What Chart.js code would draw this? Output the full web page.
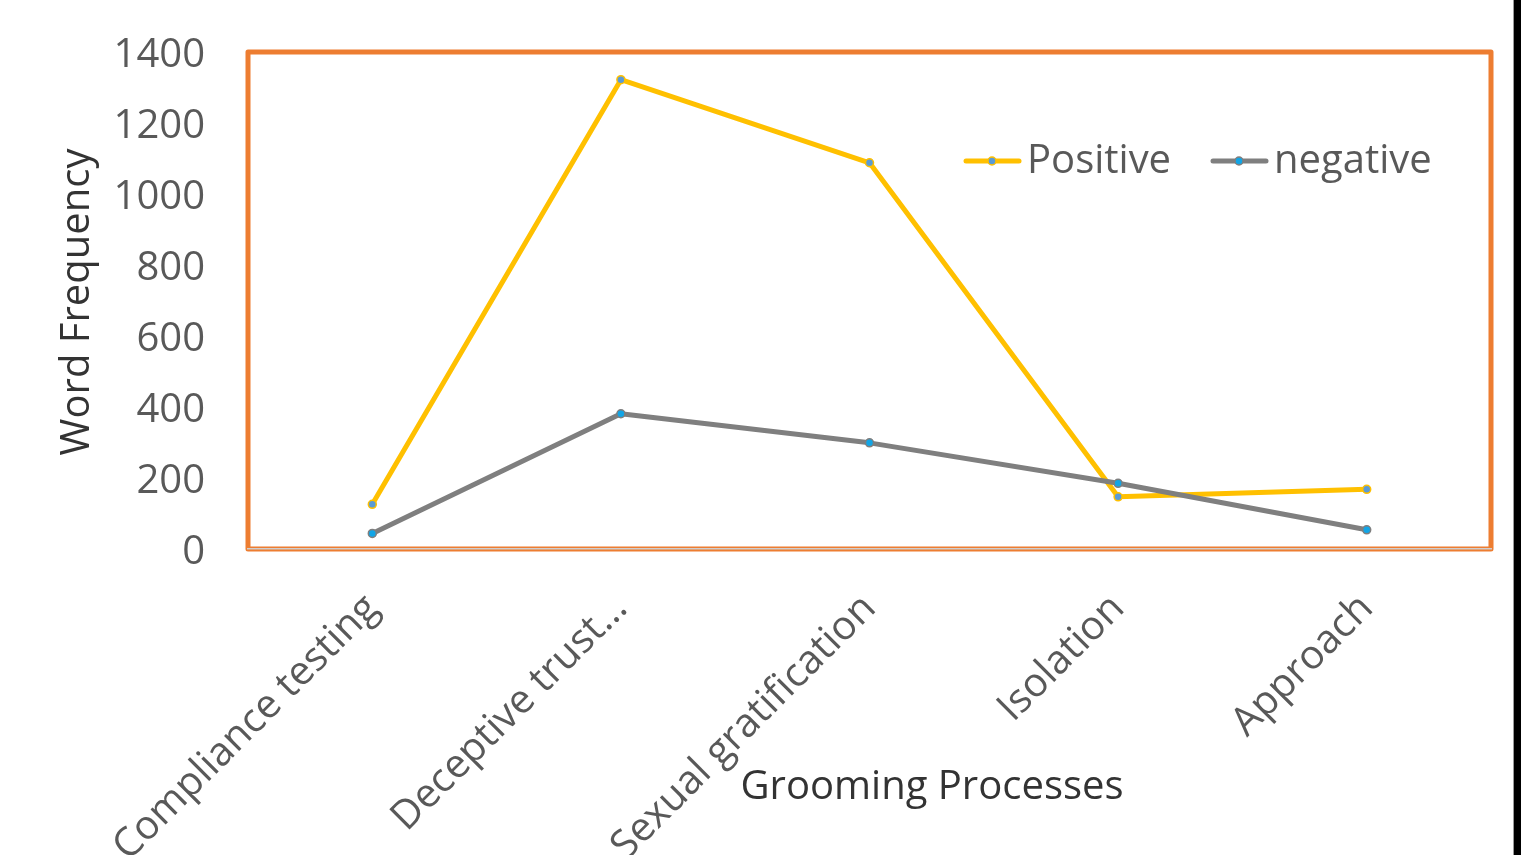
<!DOCTYPE html>
<html>
<head>
<meta charset="utf-8">
<title>Grooming Processes – Word Frequency</title>
<script src="https://cdn.jsdelivr.net/npm/chart.js@4.4.1/dist/chart.umd.min.js"></script>
<style>
  html, body { margin: 0; padding: 0; background: #ffffff; overflow: hidden; }
  #wrap { position: relative; width: 1521px; height: 855px; }
  #edge { position: absolute; left: 1513px; top: 0; width: 1px; height: 855px; background: #9a9a9a; }
  #edgeDark { position: absolute; left: 1514px; top: 0; width: 7px; height: 855px; background: #000000; }
</style>
</head>
<body>
<div id="wrap">
  <canvas id="chart" width="1521" height="855"></canvas>
  <div id="edge"></div>
  <div id="edgeDark"></div>
</div>
<script>
// Grooming process categories
const categories = ['Compliance testing', 'Deceptive trust…', 'Sexual gratification', 'Isolation', 'Approach'];
// Word frequency per process
const positiveValues = [126, 1322, 1088, 147, 168];
const negativeValues = [44, 381, 299, 185, 54];
// Value axis
const yTicks = [0, 200, 400, 600, 800, 1000, 1200, 1400];
const seriesNames = ['Positive', 'negative'];

const FONT = '"Open Sans", "Noto Sans", sans-serif';
const TICK_COLOR = '#595959';
const TITLE_COLOR = '#333333';
const POS_COLOR = '#FFC000';
const NEG_COLOR = '#7F7F7F';
const POS_DOT = '#5B9BD5';
const NEG_DOT = '#12A5E6';

// Orange frame around the plot area, drawn beneath the axis line
const frame = {
  id: 'frame',
  beforeDraw(chart) {
    const { ctx, chartArea: a } = chart;
    ctx.save();
    ctx.strokeStyle = '#ED7D31';
    ctx.lineWidth = 5;
    ctx.lineJoin = 'round';
    ctx.strokeRect(a.left, a.top, a.right - a.left, a.bottom - a.top);
    ctx.restore();
  }
};

// Axis titles and the in-plot legend
const annotations = {
  id: 'annotations',
  afterDraw(chart) {
    const { ctx } = chart;
    ctx.save();
    ctx.fillStyle = TITLE_COLOR;
    ctx.font = '40px ' + FONT;
    ctx.textAlign = 'center';
    ctx.textBaseline = 'middle';
    ctx.fillText('Grooming Processes', 932, 788);
    ctx.save();
    ctx.translate(78, 302);
    ctx.rotate(-Math.PI / 2);
    ctx.fillText('Word Frequency', 0, 0);
    ctx.restore();

    const items = [
      { name: seriesNames[0], color: POS_COLOR, dot: POS_DOT, x: 966 },
      { name: seriesNames[1], color: NEG_COLOR, dot: NEG_DOT, x: 1213 }
    ];
    const y = 161;
    items.forEach(it => {
      ctx.strokeStyle = it.color;
      ctx.lineWidth = 5;
      ctx.lineCap = 'round';
      ctx.beginPath();
      ctx.moveTo(it.x, y);
      ctx.lineTo(it.x + 53, y);
      ctx.stroke();
      ctx.beginPath();
      ctx.arc(it.x + 26, y, 4, 0, Math.PI * 2);
      ctx.fillStyle = it.dot;
      ctx.fill();
      ctx.lineWidth = 1.5;
      ctx.strokeStyle = it.color;
      ctx.stroke();
      ctx.fillStyle = TICK_COLOR;
      ctx.textAlign = 'left';
      ctx.font = '40px ' + FONT;
      ctx.fillText(it.name, it.x + 61, y + 1);
    });
    ctx.restore();
  }
};

new Chart(document.getElementById('chart'), {
  type: 'line',
  data: {
    labels: categories,
    datasets: [
      {
        label: seriesNames[0],
        data: positiveValues,
        borderColor: POS_COLOR,
        backgroundColor: POS_COLOR,
        borderWidth: 5,
        borderJoinStyle: 'round',
        borderCapStyle: 'round',
        pointRadius: 4,
        pointBackgroundColor: POS_DOT,
        pointBorderColor: POS_COLOR,
        pointBorderWidth: 1.5,
        tension: 0,
        order: 1
      },
      {
        label: seriesNames[1],
        data: negativeValues,
        borderColor: NEG_COLOR,
        backgroundColor: NEG_COLOR,
        borderWidth: 5,
        borderJoinStyle: 'round',
        borderCapStyle: 'round',
        pointRadius: 4,
        pointBackgroundColor: NEG_DOT,
        pointBorderColor: NEG_COLOR,
        pointBorderWidth: 1.5,
        tension: 0,
        order: 0
      }
    ]
  },
  options: {
    responsive: false,
    animation: false,
    layout: { padding: { top: 52, right: 30, left: 0, bottom: 0 } },
    plugins: {
      legend: { display: false },
      tooltip: { enabled: false }
    },
    scales: {
      x: {
        offset: true,
        grid: { display: false, drawTicks: false },
        border: { display: true, color: '#d0cece', width: 1.5 },
        ticks: {
          color: TICK_COLOR,
          font: { family: FONT, size: 40 },
          minRotation: 45,
          maxRotation: 45,
          autoSkip: false,
          padding: 36
        },
        afterFit(scale) {
          scale.height = 306;
          scale.paddingLeft = 0;
          scale.paddingRight = 0;
        }
      },
      y: {
        min: 0,
        max: 1400,
        grid: { display: false, drawTicks: false },
        border: { display: false },
        afterBuildTicks(scale) { scale.ticks = yTicks.map(v => ({ value: v })); },
        ticks: {
          color: TICK_COLOR,
          font: { family: FONT, size: 40 },
          padding: 43,
          labelOffset: 4,
          callback: (v) => String(v)
        },
        afterFit(scale) {
          scale.width = 248;
          scale.paddingTop = 0;
          scale.paddingBottom = 0;
        }
      }
    }
  },
  plugins: [frame, annotations]
});
</script>
</body>
</html>
